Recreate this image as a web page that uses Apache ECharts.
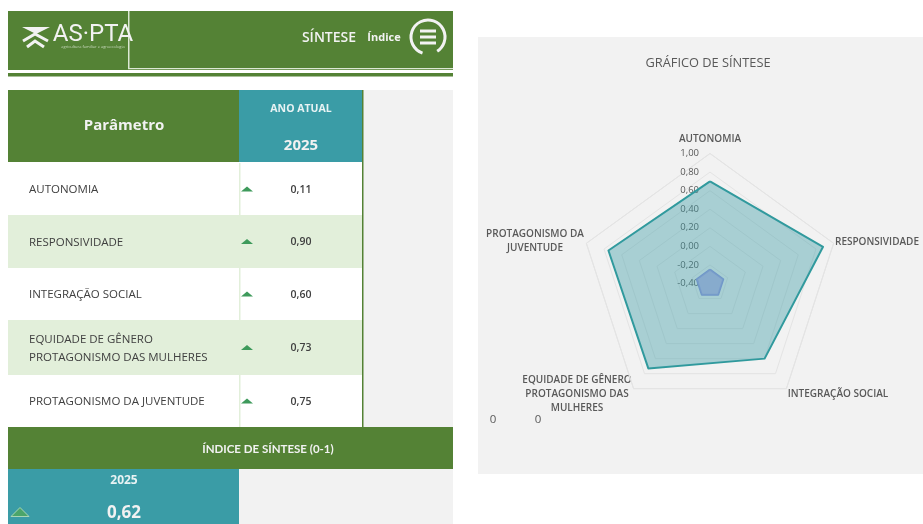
<!DOCTYPE html>
<html><head><meta charset="utf-8">
<style>html,body{margin:0;padding:0;background:#fff}#c{width:923px;height:524px}</style>
<script src="https://cdn.jsdelivr.net/npm/echarts@6/dist/echarts.min.js"></script>
</head><body><div id="c"></div>
<script>
// radar axes run counter-clockwise in ECharts, starting from the top
var radarNames = ['AUTONOMIA','PROTAGONISMO DA\nJUVENTUDE','EQUIDADE DE GÊNERO\nPROTAGONISMO DAS\nMULHERES','INTEGRAÇÃO SOCIAL','RESPONSIVIDADE'];
var currentValues = [0.70,0.75,0.73,0.60,0.88];
var innerValues = [-0.25,-0.25,-0.25,-0.25,-0.25];
var axisMin = -0.4, axisMax = 1;
var tableParams = ['AUTONOMIA','RESPONSIVIDADE','INTEGRAÇÃO SOCIAL','EQUIDADE DE GÊNERO\nPROTAGONISMO DAS MULHERES','PROTAGONISMO DA JUVENTUDE'];
var tableValues = ['0,11','0,90','0,60','0,73','0,75'];
var rowTops = [163,215,268,320,375,427];
var namePos = [[710,139],[535,241],[577,394],[838,394],[877,242]];

var GREEN='#548235', TEAL='#3A9CA6', LIGHT='#E2EFDA', GREY='#F2F2F2', WHITE='#FFFFFF';
var FONT='"Open Sans", Lato, sans-serif', LATO='Lato, sans-serif';
function rect(x,y,w,h,fill){return {type:'rect',silent:true,shape:{x:x,y:y,width:w,height:h},style:{fill:fill}};}
function text(t,x,y,size,fill,weight,align,lh,font){return {type:'text',silent:true,x:x,y:y,style:{text:t,fill:fill,font:(weight||'normal')+' '+size+'px '+(font||FONT),align:align||'center',verticalAlign:'middle',lineHeight:lh||size+2}};}
function tri(cx,cy,w,h,fill,stroke){return {type:'polygon',silent:true,shape:{points:[[cx-w/2,cy+h/2],[cx,cy-h/2],[cx+w/2,cy+h/2]]},style:{fill:fill,stroke:stroke||null,lineWidth:1}};}

var g=[];
g.push(rect(478,37,445,437,GREY));
g.push(text('GRÁFICO DE SÍNTESE',708,63,12.8,'#595959','normal'));
radarNames.forEach(function(n,i){g.push(text(n,namePos[i][0],namePos[i][1],10,'#595959','600','center',14));});
// header band
g.push(rect(8,11,445,59,GREEN));
g.push(rect(128,11,1.5,58,'#DCE8D4'));
g.push(rect(128,68,325,1.2,'#DCE8D4'));
g.push(rect(8,71,445,1.5,WHITE));
g.push(rect(8,73,445,3.5,GREEN));
// logo
g.push({type:'polygon',silent:true,shape:{points:[[22,27],[50,27],[36,34]]},style:{fill:'#F2F2F2'}});
g.push({type:'polyline',silent:true,shape:{points:[[23,41],[35,34],[48,41]]},style:{stroke:'#F2F2F2',lineWidth:3,fill:null}});
g.push({type:'polyline',silent:true,shape:{points:[[27,47],[35,41],[44,47]]},style:{stroke:'#F2F2F2',lineWidth:3,fill:null}});
g.push(text('AS·PTA',93,35,24,'#F2F2F2','normal','center',24,'Roboto, sans-serif'));
g.push(text('agricultura familiar e agroecologia',93,47,4,'#C9D9BE'));
g.push(text('SÍNTESE',329,38,14,'#F2F2F2','600'));
g.push(text('Índice',384,38,11,'#F2F2F2','bold'));
g.push({type:'arc',silent:true,shape:{cx:428,cy:37,r:17,startAngle:1.9,endAngle:1.0+2*Math.PI},style:{stroke:'#F2F2F2',lineWidth:3,fill:null}});
[31,37,43].forEach(function(y){g.push(rect(420,y-1.5,16,3,'#F2F2F2'));});
// table header
g.push(rect(363,90,90,337,GREY));
g.push(rect(8,90,231,72,GREEN));
g.push(rect(239,90,123,72,TEAL));
g.push(rect(362,90,1.5,337,GREEN));
g.push(text('Parâmetro',124,126,15,'#F2F2F2','bold'));
g.push(text('ANO ATUAL',301,109,10.5,'#E8F3F4','bold'));
g.push(text('2025',301,146,15,'#F2F2F2','bold'));
// rows
tableParams.forEach(function(p,i){
  var t=rowTops[i],b=rowTops[i+1],m=(t+b)/2;
  g.push(rect(8,t,354,b-t,i%2?LIGHT:WHITE));
  g.push(rect(239,t,1.5,b-t,LIGHT));
  g.push(text(p,29,m+1,11.5,'#404040','normal','left',18));
  g.push(tri(247,m,12,5,'#3E9A5B'));
  g.push(text(tableValues[i],301,m+1,10.5,'#404040','600'));
});
// footer
g.push(rect(8,427,445,42,GREEN));
g.push(text('ÍNDICE DE SÍNTESE (0-1)',268,449,11.5,'#F2F2F2','bold',null,null,LATO));
g.push(rect(8,469,231,55,TEAL));
g.push(rect(239,469,214,55,GREY));
g.push(text('2025',124,481,12,'#E8F3F4','bold'));
g.push(text('0,62',124,513,17,'#F2F2F2','bold'));
g.push(tri(20,512,18,9,'#4BA56A','#A9D6B4'));
// stray zeros
g.push(text('0',493,420,11.5,'#595959'));
g.push(text('0',538,420,11.5,'#595959'));

var indicator=radarNames.map(function(n,i){
  return {name:n,min:axisMin,max:axisMax,axisLabel:{show:i===0,showMinLabel:true,showMaxLabel:true,color:'#595959',fontSize:9.5,fontFamily:FONT,margin:11,
    formatter:function(v){return (Math.abs(v)<1e-9?0:v).toFixed(2).replace('.',',');}}};
});
var chart=echarts.init(document.getElementById('c'));
chart.setOption({
  animation:false,backgroundColor:'#fff',
  graphic:{elements:g.map(function(e){e.z=0;e.zlevel=0;return e;})},
  radar:{center:[710,283.5],radius:130,startAngle:90,splitNumber:7,shape:'polygon',indicator:indicator,
    axisName:{show:false},
    axisLine:{show:false},axisTick:{show:false},
    axisLabel:{show:false},
    splitLine:{lineStyle:{color:'#E4E4E4',width:1}},splitArea:{show:false},z:5},
  series:[{type:'radar',z:6,symbol:'none',silent:true,data:[
    {name:'Ano atual',value:currentValues,lineStyle:{color:'#2F9A9C',width:2},areaStyle:{color:'#3A9CA6',opacity:.4}},
    {name:'Referência',value:innerValues,lineStyle:{color:'#6F97C8',width:2},areaStyle:{color:'#7C9FCB',opacity:.75}}
  ]}]
});
</script></body></html>
